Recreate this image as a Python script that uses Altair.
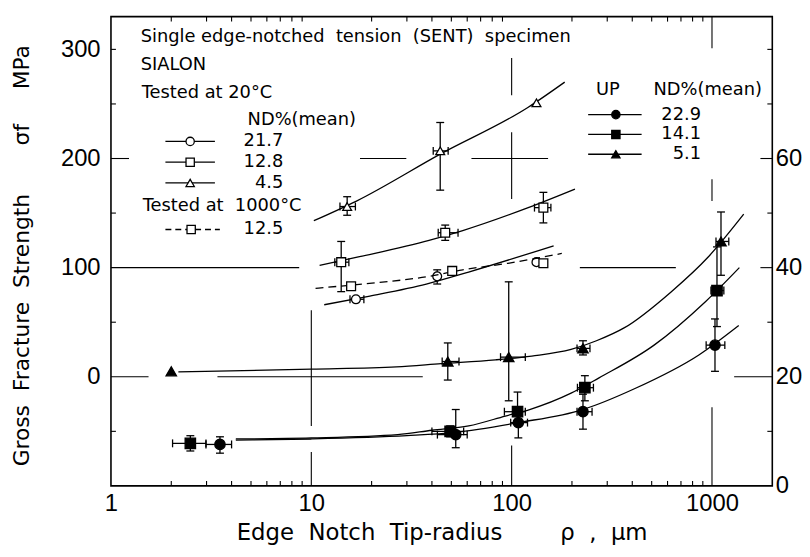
import altair as alt
import pandas as pd

# ---------------- values ----------------
# Tested at 20 degC, open symbols
oc_x = [16.7, 42.5, 133]          # ND 21.7 %, open circle
oc_y = [71, 92, 105]
oc_ylo = [None, 85, None]
oc_yhi = [None, 98, None]
oc_xlo = [15.6, None, None]
oc_xhi = [18.3, None, None]

os_x = [14.1, 46.6, 144]          # ND 12.8 %, open square
os_y = [105, 132, 155]
os_ylo = [78, 125, 141]
os_yhi = [124, 139, 169]
os_xlo = [13.1, 43, 130]
os_xhi = [15.4, 54, 157]

ot_x = [15.1, 44, 133]            # ND 4.5 %, open triangle
ot_y = [156, 207, 251]
ot_ylo = [148, 171, None]
ot_yhi = [165, 233, None]
ot_xlo = [13.9, 40.6, None]
ot_xhi = [16.6, 48.2, None]

# Tested at 1000 degC, open square, dashed
hs_x = [15.8, 50.5, 144]          # ND 12.5 %
hs_y = [83, 97, 104]

# UP, filled symbols
fc_x = [3.5, 52.6, 108, 227, 1035]   # ND 22.9 %, filled circle
fc_y = [-62, -53, -42, -32, 29]
fc_ylo = [-70, -65, -56, -48, 5]
fc_yhi = [-55, -30, -35, -16, 53]
fc_xlo = [2.98, 42.6, 98.9, 212, 935]
fc_xhi = [4.0, 60, 120, 252, 1159]

fs_x = [2.49, 49.3, 107, 232, 1059]  # ND 14.1 %, filled square
fs_y = [-61, -50, -32, -10, 79]
fs_ylo = [-68, -55, -40, -22, 46]
fs_yhi = [-54, -45, -14, 1, 119]
fs_xlo = [2.03, 40, 92, 213, 988]
fs_xhi = [2.98, 57.6, 117, 256, 1146]

ft_x = [2.0, 48, 96.7, 227, 1109]    # ND 5.1 %, filled triangle
ft_y = [5, 14, 18, 26, 124]
ft_ylo = [None, -3, -22, 20, 93]
ft_yhi = [None, 31, 87, 33, 151]
ft_xlo = [None, 45, 88, 212, 1047]
ft_xhi = [None, 54.6, 117, 246, 1213]

# fitted curves
fit_oc_x = [11.6, 19.6, 37.5, 61, 162]
fit_oc_y = [66, 74, 85, 96, 120]
fit_os_x = [11, 17.4, 38.7, 57, 121, 207]
fit_os_y = [102, 110, 125, 134, 155, 172]
fit_ot_x = [10.3, 16.8, 44, 121, 184]
fit_ot_y = [143, 161, 204, 247, 270]
fit_hs_x = [10.5, 17.9, 38.7, 57, 96, 178]
fit_hs_y = [81, 85, 92, 98, 104, 113]
fit_fc_x = [4.2, 10, 30, 52, 108, 227, 410, 860, 1360]
fit_fc_y = [-58, -57, -54, -51, -42, -30, -11, 20, 47]
fit_fs_x = [4.2, 10, 27, 40, 61, 93, 123, 198, 273, 514, 930, 1370]
fit_fs_y = [-57, -56, -53, -49, -45, -36, -30, -15, -1, 29, 69, 100]
fit_ft_x = [2.17, 10, 26.6, 44.5, 83, 126, 198, 265, 366, 627, 960, 1440]
fit_ft_y = [4.5, 7, 9, 12, 15.5, 19, 25, 33, 45, 78, 110, 149]

# broken cross-hair grid segments (data units)
grid_x1 = [10, 10, 100, 100, 100, 1000, 1000, 1000, 1, 17.5, 63, 1, 219, 1, 3.4, 1290]
grid_x2 = [10, 10, 100, 100, 100, 1000, 1000, 1000, 1.23, 29.8, 152, 8.7, 660, 1.54, 36, 2000]
grid_y1 = [61, -69, 292, 224, -63, 330, 181, -28, 200, 200, 200, 100, 100, 0, 0, 0]
grid_y2 = [-45, -100, 258, 163, -100, 301, 161, -100, 200, 200, 200, 100, 100, 0, 0, 0]

# axis ticks
x_minor = [2, 3, 4, 5, 6, 7, 8, 9, 20, 30, 40, 50, 60, 70, 80, 90,
           200, 300, 400, 500, 600, 700, 800, 900]
x_labels = [1, 10, 100, 1000]
y_minor = [-50, 50, 150, 250, 300]
y_labels = [0, 100, 200, 300]
r_minor = [10, 30, 50, 70, 80]      # right-hand scale units
r_major = [40, 60]
r_labels = [0, 20, 40, 60]

# legend texts
left_nd = ["21.7", "12.8", "4.5"]
hot_nd = ["12.5"]
up_nd = ["22.9", "14.1", "5.1"]

# ---------------- chart ----------------
W, H = 668, 474
YMIN, YMAX = -100, 330
XS = alt.Scale(type="log", domain=[1, 2000], nice=False)
YS = alt.Scale(domain=[YMIN, YMAX], nice=False, zero=False)
FONT = "DejaVu Sans"
NUMFONT = "Liberation Sans"
NB = "\u00a0"


def to_left(r):            # right-hand axis value -> left-hand (MPa) value
    return r * 5 - 100


def X(f):
    return alt.X(f, type="quantitative", scale=XS, axis=None)


def Y(f):
    return alt.Y(f, type="quantitative", scale=YS, axis=None)


def PX(f):
    return alt.X(f, type="quantitative", scale=None, axis=None)


def PY(f):
    return alt.Y(f, type="quantitative", scale=None, axis=None)


def series(x, y, ylo, yhi, xlo, xhi, shape, filled, size, fx, fy, dash=None):
    df = pd.DataFrame({"x": x, "y": y, "ylo": ylo, "yhi": yhi, "xlo": xlo, "xhi": xhi})
    out = []
    lk = dict(color="black", strokeWidth=1.3, interpolate="monotone")
    if dash:
        lk["strokeDash"] = dash
    out.append(alt.Chart(pd.DataFrame({"x": fx, "y": fy})).mark_line(**lk)
               .encode(x=X("x"), y=Y("y")))
    v = df.dropna(subset=["ylo"])
    if len(v):
        out.append(alt.Chart(v).mark_rule(color="black", strokeWidth=1.3)
                   .encode(x=X("x"), y=Y("ylo"), y2=alt.Y2("yhi")))
        for f in ("ylo", "yhi"):
            out.append(alt.Chart(v).mark_tick(orient="horizontal", size=8, thickness=1.3,
                                              color="black", opacity=1)
                       .encode(x=X("x"), y=Y(f)))
    h = df.dropna(subset=["xlo"])
    if len(h):
        out.append(alt.Chart(h).mark_rule(color="black", strokeWidth=1.3)
                   .encode(x=X("xlo"), x2=alt.X2("xhi"), y=Y("y")))
        for f in ("xlo", "xhi"):
            out.append(alt.Chart(h).mark_tick(orient="vertical", size=8, thickness=1.3,
                                              color="black", opacity=1)
                       .encode(x=X(f), y=Y("y")))
    out.append(alt.Chart(df).mark_point(shape=shape, filled=True,
                                        fill="black" if filled else "white",
                                        stroke="black", strokeWidth=1.3, size=size, opacity=1)
               .encode(x=X("x"), y=Y("y")))
    return out


none_list = [None, None, None]

axis_common = dict(ticks=False, domain=False, grid=False, labelFont=NUMFONT,
                   labelFontSize=24, labelColor="black", labelFlush=False,
                   labelOverlap=False)

x_title = ("Edge" + NB * 2 + "Notch" + NB * 2 + "Tip-radius" + NB * 8
           + "ρ" + NB * 2 + "," + NB * 2 + "μm")
y_title = ("Gross" + NB * 2 + "Fracture" + NB * 2 + "Strength" + NB * 7
           + "σf" + NB * 5 + "MPa")

grid_df = pd.DataFrame({"x1": grid_x1, "x2": grid_x2, "y1": grid_y1, "y2": grid_y2})
grid = alt.Chart(grid_df).mark_rule(color="black", strokeWidth=1.1).encode(
    x=alt.X("x1:Q", scale=XS, axis=alt.Axis(
        orient="bottom", values=x_labels, format="d", labelPadding=6,
        title=x_title, titleFont=FONT,
        titleFontSize=23, titleFontWeight="normal", titleColor="black",
        titleBaseline="middle", titleY=47, **axis_common)),
    x2="x2:Q",
    y=alt.Y("y1:Q", scale=YS, axis=alt.Axis(
        orient="left", values=y_labels, labelPadding=11,
        title=y_title,
        titleFont=FONT, titleFontSize=22, titleFontWeight="normal", titleColor="black",
        titleAngle=270, titleX=-90, titleY=H / 2 + 4, titleAlign="center",
        titleBaseline="middle", **axis_common)),
    y2="y2:Q",
)

tick_style = dict(color="black", strokeWidth=1.1)
xt = pd.DataFrame({"v": x_minor})
yt = pd.DataFrame({"v": y_minor})
rmin = pd.DataFrame({"v": [to_left(r) for r in r_minor]})
rmaj = pd.DataFrame({"v": [to_left(r) for r in r_major]})

right_axis = alt.Axis(orient="right", values=[to_left(r) for r in r_labels],
                      labelExpr="format((datum.value + 100) / 5, 'd')",
                      labelPadding=3, title=None, **axis_common)

layers = [grid]
layers += [
    alt.Chart(xt).mark_rule(**tick_style).encode(x=X("v"), y=alt.value(H), y2=alt.value(H - 5)),
    alt.Chart(xt).mark_rule(**tick_style).encode(x=X("v"), y=alt.value(0), y2=alt.value(5)),
    alt.Chart(yt).mark_rule(**tick_style).encode(y=Y("v"), x=alt.value(0), x2=alt.value(5)),
    alt.Chart(rmin).mark_rule(**tick_style).encode(
        y=alt.Y("v:Q", scale=YS, axis=right_axis), x=alt.value(W), x2=alt.value(W - 5)),
    alt.Chart(rmaj).mark_rule(**tick_style).encode(y=Y("v"), x=alt.value(W), x2=alt.value(W - 12)),
]

layers += series(oc_x, oc_y, oc_ylo, oc_yhi, oc_xlo, oc_xhi, "circle", False, 80, fit_oc_x, fit_oc_y)
layers += series(os_x, os_y, os_ylo, os_yhi, os_xlo, os_xhi, "square", False, 80, fit_os_x, fit_os_y)
layers += series(ot_x, ot_y, ot_ylo, ot_yhi, ot_xlo, ot_xhi, "triangle-up", False, 80, fit_ot_x, fit_ot_y)
layers += series(hs_x, hs_y, none_list, none_list, none_list, none_list, "square", False, 80,
                 fit_hs_x, fit_hs_y, dash=[8, 5])
layers += series(fc_x, fc_y, fc_ylo, fc_yhi, fc_xlo, fc_xhi, "circle", True, 110, fit_fc_x, fit_fc_y)
layers += series(fs_x, fs_y, fs_ylo, fs_yhi, fs_xlo, fs_xhi, "square", True, 110, fit_fs_x, fit_fs_y)
layers += series(ft_x, ft_y, ft_ylo, ft_yhi, ft_xlo, ft_xhi, "triangle-up", True, 110, fit_ft_x, fit_ft_y)

# ---- in-plot legend / annotation (pixel layout relative to the plot area) ----
txt_left = [
    ("Single edge-notched" + NB + " tension" + NB + " (SENT)" + NB + " specimen", 30, 21),
    ("SIALON", 30, 49),
    ("Tested at 20°C", 31, 77),
    ("ND%(mean)", 138, 104),
    ("Tested at" + NB + " 1000°C", 32, 191),
    ("UP", 490, 74),
    ("ND%(mean)", 548, 74),
]
row_y = [126 + 21 * i for i in range(len(left_nd))]
up_y = [99 + 20 * i for i in range(len(up_nd))]
txt_right = [(t, 174, yy) for t, yy in zip(left_nd, row_y)]
txt_right += [(t, 174, 215) for t in hot_nd]
txt_right += [(t, 596, yy) for t, yy in zip(up_nd, up_y)]


def tdf(rows):
    return pd.DataFrame(rows, columns=["t", "px", "py"])


text_kw = dict(font=FONT, fontSize=18, color="black", baseline="middle")
layers.append(alt.Chart(tdf(txt_left)).mark_text(align="left", **text_kw).encode(
    x=PX("px"), y=PY("py"), text="t:N"))
layers.append(alt.Chart(tdf(txt_right)).mark_text(align="right", **text_kw).encode(
    x=PX("px"), y=PY("py"), text="t:N"))

leg = pd.DataFrame({
    "cx": [80, 80, 80, 510, 510, 510],
    "cy": row_y + up_y,
    "x1": [55, 55, 55, 482, 482, 482],
    "x2": [105, 105, 105, 536, 536, 536],
    "shape": ["circle", "square", "triangle-up"] * 2,
    "fill": ["white"] * 3 + ["black"] * 3,
})
hot_leg = pd.DataFrame({"cx": [81], "cy": [215], "x1": [55], "x2": [110],
                        "shape": ["square"], "fill": ["white"]})
layers.append(alt.Chart(leg).mark_rule(color="black", strokeWidth=1.3).encode(
    x=PX("x1"), x2="x2:Q", y=PY("cy")))
layers.append(alt.Chart(hot_leg).mark_rule(color="black", strokeWidth=1.3, strokeDash=[6, 4]).encode(
    x=PX("x1"), x2="x2:Q", y=PY("cy")))
for d in (leg, hot_leg):
    layers.append(alt.Chart(d).mark_point(filled=True, stroke="black", strokeWidth=1.3,
                                          size=70, opacity=1).encode(
        x=PX("cx"), y=PY("cy"),
        shape=alt.Shape("shape:N", scale=None), fill=alt.Fill("fill:N", scale=None)))

chart = (
    alt.layer(*layers)
    .resolve_axis(x="independent", y="independent")
    .properties(width=W, height=H, background="white",
                padding={"left": 104, "top": 6, "right": 30, "bottom": 61},
                autosize=alt.AutoSizeParams(type="none"))
    .configure_view(stroke="black", strokeWidth=1.6)
)

chart.save("out.html", embed_options={"renderer": "svg", "actions": False})
